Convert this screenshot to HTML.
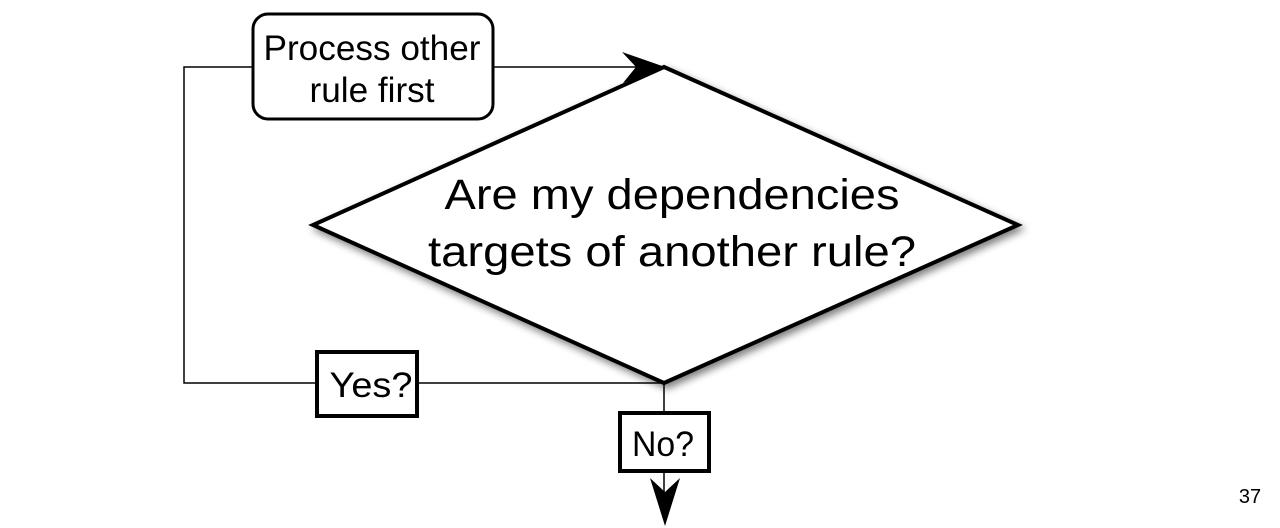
<!DOCTYPE html>
<html><head><meta charset="utf-8"><style>
html,body{margin:0;padding:0;background:#fff;width:1280px;height:528px;overflow:hidden}
svg{display:block}
text{font-family:"Liberation Sans",Arial,sans-serif;fill:#000}
</style></head><body>
<svg width="1280" height="528" viewBox="0 0 1280 528" xmlns="http://www.w3.org/2000/svg">
<defs>
<filter id="sh" x="-10%" y="-10%" width="130%" height="130%">
<feGaussianBlur in="SourceAlpha" stdDeviation="4"/>
<feOffset dx="3" dy="4" result="b"/>
<feComponentTransfer><feFuncA type="linear" slope="0.5"/></feComponentTransfer>
<feMerge><feMergeNode/><feMergeNode in="SourceGraphic"/></feMerge>
</filter>
</defs>
<polyline points="252,67 184,67 184,383 664,383" fill="none" stroke="#000" stroke-width="1.5"/>
<line x1="494" y1="67" x2="640" y2="67" stroke="#000" stroke-width="1.5"/>
<line x1="664" y1="383" x2="664" y2="500" stroke="#000" stroke-width="1.5"/>
<polygon points="664,67 1018,225 664,383 313,225" fill="#fff" stroke="#000" stroke-width="4" stroke-linejoin="miter" filter="url(#sh)"/>
<polygon points="665,67 622,52 636,67 623,83" fill="#000"/>
<polygon points="665,526 650,478 665,492 680,478" fill="#000"/>
<rect x="253" y="14" width="240" height="105" rx="15" ry="15" fill="#fff" stroke="#000" stroke-width="3"/>
<text x="372" y="60" font-size="35" text-anchor="middle" textLength="217" lengthAdjust="spacingAndGlyphs">Process other</text>
<text x="372" y="102" font-size="35" text-anchor="middle" textLength="125" lengthAdjust="spacingAndGlyphs">rule first</text>
<text x="672" y="209" font-size="43" text-anchor="middle" textLength="455" lengthAdjust="spacingAndGlyphs">Are my dependencies</text>
<text x="672" y="266" font-size="43" text-anchor="middle" textLength="488" lengthAdjust="spacingAndGlyphs">targets of another rule?</text>
<rect x="317" y="352" width="100" height="64" fill="#fff" stroke="#000" stroke-width="4"/>
<text x="371" y="397" font-size="35" text-anchor="middle" textLength="83" lengthAdjust="spacingAndGlyphs">Yes?</text>
<rect x="620" y="413" width="89" height="58" fill="#fff" stroke="#000" stroke-width="4"/>
<text x="663" y="456" font-size="35" text-anchor="middle" textLength="62" lengthAdjust="spacingAndGlyphs">No?</text>
<text x="1250" y="503" font-size="20" text-anchor="middle">37</text>
</svg>
</body></html>
